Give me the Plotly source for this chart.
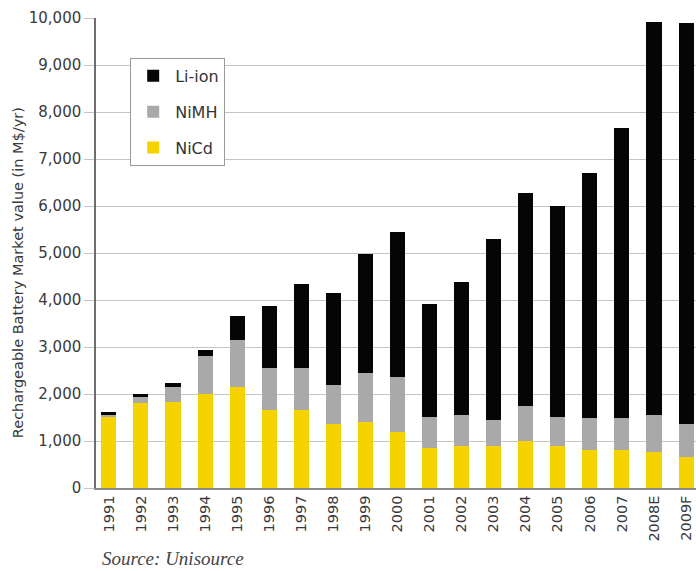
import plotly.graph_objects as go

# Rechargeable battery market value by chemistry (M$/yr)
years = ["1991", "1992", "1993", "1994", "1995", "1996", "1997", "1998", "1999",
         "2000", "2001", "2002", "2003", "2004", "2005", "2006", "2007", "2008E", "2009F"]
nicd = [1530, 1800, 1830, 2000, 2150, 1660, 1660, 1360, 1410,
        1200, 850, 900, 900, 990, 900, 810, 810, 760, 670]
nimh = [40, 140, 320, 810, 1000, 890, 900, 830, 1030,
        1170, 670, 650, 550, 760, 620, 670, 670, 790, 690]
li_ion = [40, 60, 90, 130, 510, 1320, 1780, 1950, 2540,
          3080, 2390, 2840, 3840, 4520, 4490, 5230, 6190, 8370, 8530]

y_ticks = list(range(0, 10001, 1000))

TEXT_FONT = "DejaVu Sans, sans-serif"

fig = go.Figure()
# legend rank puts Li-ion at the top of the key, matching the stack order
for name, vals, color, rank in [("NiCd", nicd, "#F4D300", 3),
                                ("NiMH", nimh, "#A9A9A9", 2),
                                ("Li-ion", li_ion, "#050505", 1)]:
    fig.add_trace(go.Bar(x=years, y=vals, name=name, legendgroup=name,
                         legendrank=rank,
                         marker=dict(color=color, line=dict(width=0))))

fig.update_layout(
    width=696, height=571,
    margin=dict(l=96, r=0, t=18, b=83, pad=0),
    barmode="stack",
    bargap=0.53,
    plot_bgcolor="white",
    paper_bgcolor="white",
    font=dict(family=TEXT_FONT, size=14, color="#3a3a3a"),
    showlegend=True,
    legend=dict(
        x=0.057, y=0.915, xanchor="left", yanchor="top",
        bgcolor="white", bordercolor="#9a9a9a", borderwidth=1,
        traceorder="grouped", tracegroupgap=12, itemwidth=34,
        font=dict(family=TEXT_FONT, size=16, color="#333333"),
    ),
    xaxis=dict(
        type="category", range=[-0.4, 18.31],
        tickangle=-90, ticks="", showline=True, linecolor="#8c8c8c", linewidth=1.5,
        showgrid=False, tickfont=dict(size=14.5, color="#3a3a3a"),
    ),
    yaxis=dict(
        range=[0, 10000], tickvals=y_ticks, tickformat=",",
        showgrid=True, gridcolor="#c4c4c4", gridwidth=1,
        showline=True, linecolor="#6e6e6e", linewidth=1.5,
        ticks="outside", ticklen=10, tickcolor="#c4c4c4",
        zeroline=False, tickfont=dict(size=15, color="#3a3a3a"),
    ),
    annotations=[
        dict(text="Rechargeable Battery Market value (in M$/yr)",
             xref="paper", yref="paper", x=-0.13, y=0.457,
             xanchor="center", yanchor="middle", textangle=-90, showarrow=False,
             font=dict(family=TEXT_FONT, size=14.5, color="#3a3a3a")),
        dict(text="<i>Source: Unisource</i>",
             xref="paper", yref="paper", x=0.006, y=-0.151,
             xanchor="left", yanchor="middle", showarrow=False,
             font=dict(family="Liberation Serif, serif", size=19, color="#444444")),
    ],
)

fig.write_html("out.html")
